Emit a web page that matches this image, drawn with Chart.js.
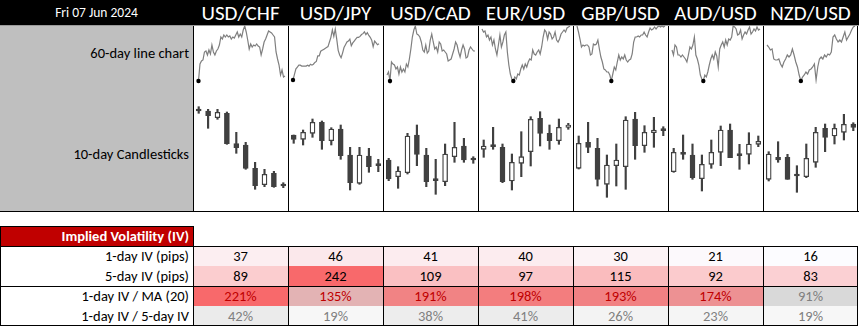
<!DOCTYPE html>
<html>
<head>
<meta charset="utf-8">
<script src="https://cdn.jsdelivr.net/npm/chart.js@4.4.1/dist/chart.umd.min.js"></script>
<style>
  body { margin: 0; background: #fff; font-family: Calibri, Carlito, Lato, sans-serif; }
  #board { position: relative; width: 859px; height: 327px; overflow: hidden; }
  .abs { position: absolute; box-sizing: border-box; }
  .hdr { color: #fff; text-align: center; line-height: 25px; top: 0; height: 25px; }
  .lbl { text-align: right; padding-right: 4px; color: #000; font-size: 14.5px; }
  .cell { text-align: center; font-size: 14.5px; line-height: 20px; height: 20px; }
  .vline { width: 1px; background: #000; }
  .hline { height: 1px; background: #000; }
  canvas { position: absolute; }
</style>
</head>
<body>
<div id="board"></div>
<script>
// header
const dateLabel = 'Fri 07 Jun 2024';
const pairs = ['USD/CHF', 'USD/JPY', 'USD/CAD', 'EUR/USD', 'GBP/USD', 'AUD/USD', 'NZD/USD'];
const rowLabels = ['60-day line chart', '10-day Candlesticks'];

// 60-day closes (relative level)
const usdchf60 = [2, 0, 17, 20, 21, 29, 30, 26, 31, 27, 36, 29, 26, 30, 32, 36, 44, 42, 46, 44,
  46, 44, 45, 42, 44, 43, 46, 49, 44, 47, 44, 51, 55, 49, 41, 32, 37, 34, 36, 35,
  37, 35, 34, 26, 32, 39, 42, 46, 50, 49, 48, 46, 44, 29, 22, 16, 6, 11, 4, 5];
const usdjpy60 = [0, 6, 12, 14, 16, 16, 15, 15, 15, 15, 16, 15, 17, 16, 17, 19, 20, 26, 26, 31,
  32, 33, 34, 35, 36, 41, 46, 54, 47, 55, 44, 32, 27, 24, 29, 35, 38, 41, 42, 44,
  37, 40, 42, 44, 46, 46, 47, 49, 50, 52, 49, 51, 48, 46, 43, 36, 42, 40, 38, 39];
const usdcad60 = [6, 9, 0, 19, 17, 16, 12, 14, 7, 14, 9, 12, 9, 17, 14, 22, 32, 44, 51, 55,
  47, 46, 44, 39, 31, 29, 36, 28, 30, 41, 47, 39, 32, 34, 29, 39, 37, 30, 31, 29,
  27, 20, 21, 22, 27, 32, 39, 36, 29, 24, 31, 36, 32, 23, 24, 31, 34, 32, 30, 30];
const eurusd60 = [52, 49, 50, 44, 46, 41, 44, 36, 41, 32, 26, 36, 46, 34, 39, 46, 49, 29, 16, 7,
  2, 0, 4, 2, 7, 6, 12, 16, 12, 17, 14, 19, 22, 21, 31, 27, 26, 29, 31, 27,
  34, 44, 51, 49, 42, 49, 47, 42, 44, 49, 41, 39, 42, 47, 49, 51, 49, 53, 54, 55];
const gbpusd60 = [55, 49, 42, 34, 36, 35, 36, 36, 34, 26, 27, 37, 36, 37, 41, 32, 24, 19, 12, 11,
  9, 9, 6, 0, 7, 14, 11, 19, 26, 21, 24, 22, 26, 21, 19, 21, 22, 27, 39, 44,
  44, 45, 44, 46, 46, 49, 46, 44, 49, 53, 51, 52, 54, 52, 54, 55, 54, 55, 54, 55];
const audusd60 = [31, 26, 36, 34, 26, 26, 24, 26, 24, 22, 19, 26, 34, 32, 36, 44, 26, 22, 16, 6,
  2, 0, 6, 4, 9, 16, 22, 26, 22, 29, 25, 14, 32, 36, 39, 34, 41, 36, 42, 41,
  44, 55, 54, 52, 46, 47, 51, 42, 46, 49, 47, 51, 54, 47, 49, 52, 50, 54, 51, 52];
const nzdusd60 = [36, 34, 31, 32, 22, 21, 21, 22, 17, 14, 19, 22, 26, 24, 26, 32, 26, 19, 14, 6,
  0, 4, 6, 9, 7, 11, 12, 14, 17, 1, 14, 22, 24, 22, 26, 24, 27, 26, 29, 44,
  46, 42, 39, 41, 39, 44, 49, 41, 44, 47, 51, 54, 55];

// 10-day candles [open, high, low, close]
const usdchf10 = [[89, 93.3, 86.7, 89], [89, 90.7, 71.7, 84.3], [82.3, 90.7, 80.7, 87.7], [86.7, 88, 55.7, 56.3],
  [56.3, 67.7, 46.7, 52.3], [55, 57.7, 30.7, 31.7], [31.7, 37.7, 10.7, 14.3], [15.3, 30.7, 13.3, 25.7],
  [26.7, 28.7, 12.7, 13.3], [14, 17.3, 12.3, 14]];
const usdjpy10 = [[65, 65, 56.7, 60.7], [60.7, 70, 55, 67.7], [66.7, 81, 62.7, 77.7], [77.7, 79, 50.7, 59.3],
  [59.3, 72.3, 55, 71], [71, 75, 40.7, 44.3], [45, 52.7, 10, 17.3], [16.7, 52.7, 15.7, 45],
  [44, 51.7, 27.7, 33.3], [34.3, 40.7, 28.3, 34.3]];
const usdcad10 = [[40, 41.7, 19.3, 21], [23.3, 33.3, 11.7, 29], [27.3, 66.7, 26, 64], [65, 75, 34.3, 45.7],
  [45, 51.7, 13.3, 18.3], [19.3, 40.7, 5.7, 19.3], [18.3, 56, 14.3, 46], [43.3, 77.7, 37.7, 52.7],
  [54, 61.7, 37.7, 40], [40, 43.3, 36.7, 40]];
const eurusd10 = [[50.7, 60, 42.7, 54], [53.3, 72.7, 50.7, 53.3], [52.7, 56, 17.3, 18.3], [19, 46, 10, 37.7],
  [36.7, 68.3, 23.3, 43.3], [48.3, 83.3, 34, 80.7], [81.7, 88.3, 54, 66.7], [66.7, 75, 50.7, 59.3],
  [59.3, 81, 55.7, 72.7], [72.7, 76.7, 70.7, 75]];
const gbpusd10 = [[31.7, 64, 31, 56.7], [57.7, 77.7, 47.3, 52.7], [51.7, 61.7, 14, 20.7], [15.7, 45, 2.7, 35],
  [34.3, 56, 14, 40], [33.3, 83.3, 10.7, 80], [81, 87.7, 40.7, 54.3], [54.3, 74.3, 47.7, 67.7],
  [67.3, 82.7, 52.7, 70], [69.3, 73.3, 64.3, 69.3]];
const audusd10 = [[28.3, 51.7, 27.7, 47.7], [47.7, 65, 40.7, 45.7], [45, 56, 20.7, 22.3], [21.3, 45, 9, 35.7],
  [35.7, 60, 31.7, 47.7], [47.7, 74, 34.3, 70], [70, 76, 42.3, 42.3], [44.3, 55.7, 30.7, 44.3],
  [45.7, 67.3, 36, 56], [55.7, 64, 53.3, 58.7]];
const nzdusd10 = [[20.7, 48.3, 19, 46], [42.7, 58.3, 37.7, 40], [42.7, 45.7, 20.7, 20.7], [24, 34.3, 7.7, 24],
  [23.3, 56, 22.3, 41.7], [37.7, 72.7, 32.7, 67.7], [71.7, 76, 48.3, 62.7], [64, 76, 56, 71.7],
  [67.7, 85.7, 60, 75.7], [76, 77.3, 69.3, 72.7]];

// implied volatility table
const ivTitle = 'Implied Volatility (IV)';
const ivRowLabels = ['1-day IV (pips)', '5-day IV (pips)', '1-day IV / MA (20)', '1-day IV / 5-day IV'];
const iv1d = [37, 46, 41, 40, 30, 21, 16];
const iv5d = [89, 242, 109, 97, 115, 92, 83];
const ivVsMa = [221, 135, 191, 198, 193, 174, 91];
const iv1dTo5d = [42, 19, 38, 41, 26, 23, 19];

const lines60 = [usdchf60, usdjpy60, usdcad60, eurusd60, gbpusd60, audusd60, nzdusd60];
const candles10 = [usdchf10, usdjpy10, usdcad10, eurusd10, gbpusd10, audusd10, nzdusd10];

// layout
const board = document.getElementById('board');
const colX = 193, colW = 95;

const add = (cls, css, text) => {
  const el = document.createElement('div');
  el.className = 'abs ' + cls;
  Object.assign(el.style, css);
  if (text !== undefined) el.textContent = text;
  board.appendChild(el);
  return el;
};
const px = v => v + 'px';

// black header bar
add('', { left: 0, top: 0, width: '859px', height: '25px', background: '#000' });
add('', { left: 0, top: '25px', width: '859px', height: '1px', background: '#9a9a9a' });
add('hdr', { left: 0, width: px(colX), fontSize: '13.5px' }, dateLabel);
pairs.forEach((p, i) => {
  add('hdr', { left: px(colX + i * colW), width: px(colW), fontSize: '21px', lineHeight: '26px' }, p);
});

// grey label column
add('', { left: 0, top: '26px', width: px(colX), height: '185px', background: '#bfbfbf' });
add('lbl', { left: 0, top: '43px', width: px(colX), lineHeight: '20px' }, rowLabels[0]);
add('lbl', { left: 0, top: '144px', width: px(colX), lineHeight: '20px' }, rowLabels[1]);

// mixing helpers for the conditional-format colours
const mix = (a, b, t) => {
  const c = a.map((v, k) => Math.round(v + (b[k] - v) * t));
  return `rgb(${c[0]},${c[1]},${c[2]})`;
};
const scale = (v, lo, hi) => Math.max(0, Math.min(1, (v - lo) / (hi - lo)));
const WHITE = [252, 252, 255], RED = [248, 105, 107], GREY = [217, 217, 217];

// IV table
add('', { left: 0, top: '226px', width: px(colX + 1), height: '21px', background: '#c00000', border: '1px solid #000',
  color: '#fff', fontWeight: 'bold', textAlign: 'right', paddingRight: '4px', fontSize: '14.5px', lineHeight: '19px' }, ivTitle);

const pipsAll = iv1d.concat(iv5d);
const pLo = Math.min(...pipsAll), pHi = Math.max(...pipsAll);
const mLo = Math.min(...ivVsMa), mHi = Math.max(...ivVsMa);
const rLo = Math.min(...iv1dTo5d), rHi = Math.max(...iv1dTo5d);

const rows = [
  { vals: iv1d, fmt: v => v, bg: v => mix(WHITE, RED, scale(v, pLo, pHi)), fg: () => '#000' },
  { vals: iv5d, fmt: v => v, bg: v => mix(WHITE, RED, scale(v, pLo, pHi)), fg: () => '#000' },
  { vals: ivVsMa, fmt: v => v + '%', bg: v => mix(GREY, RED, scale(v, mLo, mHi)), fg: v => v > 100 ? '#c00000' : '#808080' },
  { vals: iv1dTo5d, fmt: v => v + '%', bg: v => mix([247, 247, 247], [235, 235, 235], scale(v, rLo, rHi)), fg: () => '#808080' },
];
const tTop = 246;
rows.forEach((r, ri) => {
  const y = tTop + ri * 20;
  add('cell', { left: 0, top: px(y), width: px(colX), textAlign: 'right', paddingRight: '4px' }, ivRowLabels[ri]);
  r.vals.forEach((v, ci) => {
    add('cell', { left: px(colX + ci * colW), top: px(y), width: px(colW), background: r.bg(v), color: r.fg(v) }, r.fmt(v));
  });
});

// grid lines
for (let i = 0; i <= 7; i++) {
  const x = colX + i * colW - (i === 7 ? 1 : 0);
  add('vline', { left: px(x), top: '26px', height: '185px' });
  add('vline', { left: px(x), top: px(tTop), height: '80px' });
}
add('vline', { left: 0, top: px(tTop), height: '80px' });
add('hline', { left: 0, top: '211px', width: '859px' });
add('hline', { left: 0, top: px(tTop), width: '858px' });
add('hline', { left: 0, top: px(tTop + 40), width: '858px' });
add('hline', { left: 0, top: px(tTop + 79), width: '858px' });

// charts
const makeCanvas = (x, y, w, h) => {
  const c = document.createElement('canvas');
  c.width = w; c.height = h;
  c.style.left = px(x); c.style.top = px(y);
  board.appendChild(c);
  return c;
};
const baseOpts = {
  responsive: false,
  animation: false,
  events: [],
  plugins: { legend: { display: false }, tooltip: { enabled: false } },
};

lines60.forEach((vals, i) => {
  const lo = Math.min(...vals), hi = Math.max(...vals);
  const minIdx = vals.indexOf(lo);
  new Chart(makeCanvas(colX + i * colW + 1, 25, colW - 1, 59), {
    type: 'line',
    data: {
      labels: vals.map((_, k) => k),
      datasets: [{
        data: vals,
        borderColor: '#7f7f7f',
        borderWidth: 1.2,
        tension: 0,
        clip: false,
        pointRadius: vals.map((_, k) => k === minIdx ? 2.2 : 0),
        pointBackgroundColor: '#000',
        pointBorderWidth: 0,
      }]
    },
    options: {
      ...baseOpts,
      layout: { padding: { left: 3, right: 3, top: 1, bottom: 3 } },
      scales: { x: { display: false }, y: { display: false, min: lo, max: hi } }
    }
  });
});

candles10.forEach((cs, i) => {
  new Chart(makeCanvas(colX + i * colW + 1, 100, colW - 1, 100), {
    type: 'bar',
    data: {
      labels: cs.map((_, k) => k + 1),
      datasets: [
        {
          data: cs.map(c => [c[2], c[1]]),
          backgroundColor: '#404040',
          barThickness: 1.5,
          grouped: false,
          order: 2,
        },
        {
          data: cs.map(c => [Math.min(c[0], c[3]), Math.max(c[0], c[3])]),
          backgroundColor: cs.map(c => c[3] > c[0] ? '#ffffff' : '#404040'),
          borderColor: '#404040',
          borderWidth: 1.3,
          borderSkipped: false,
          barThickness: 5,
          minBarLength: 2,
          grouped: false,
          order: 1,
        }
      ]
    },
    options: {
      ...baseOpts,
      layout: { padding: 0 },
      scales: { x: { display: false }, y: { display: false, min: 0, max: 100 } }
    }
  });
});
</script>
</body>
</html>
